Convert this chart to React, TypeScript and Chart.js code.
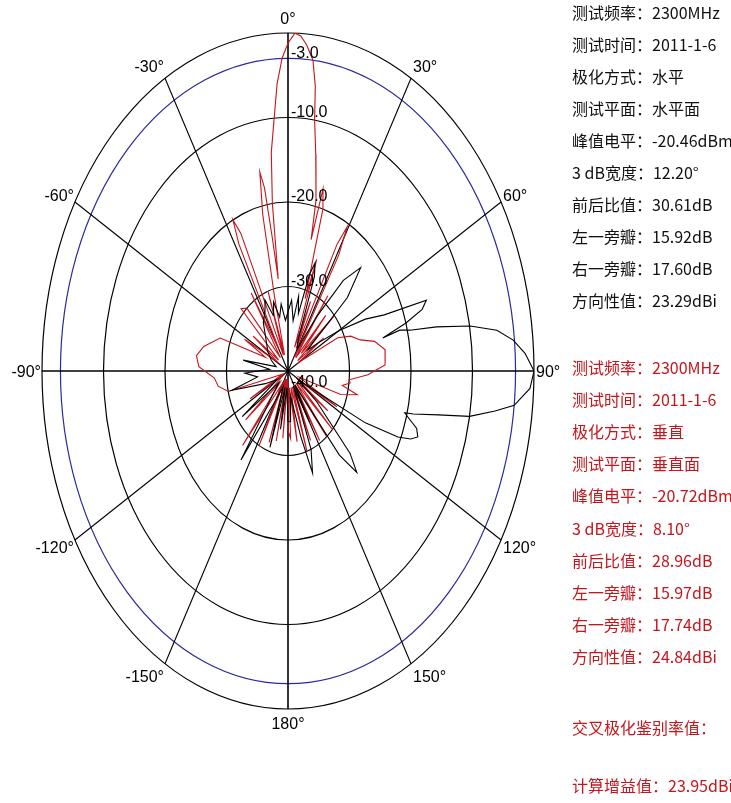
import { useEffect, useRef } from "react";
import { Chart, registerables } from "chart.js";

Chart.register(...registerables);

const MIN_DB = -40;
const MAX_DB = 0;
const RING_DB = [0, -3, -10, -20, -30];
const RING_COLORS = ["#000000", "#2a2a9c", "#000000", "#000000", "#000000"];
const RING_LABEL_DB = [-3, -10, -20, -30, -40];
const RING_LABELS = ["-3.0", "-10.0", "-20.0", "-30.0", "-40.0"];
const SPOKE_ANGLES = [0, 30, 60, 90, 120, 150, 180, -150, -120, -90, -60, -30];
const SPOKE_LABELS = ["0°", "30°", "60°", "90°", "120°", "150°", "180°", "-150°", "-120°", "-90°", "-60°", "-30°"];

// 水平 (horizontal polarization): [angle deg clockwise from top, level dB]
const H_PATTERN: [number, number][] = [
  [-180, -34], [-175, -38], [-170, -33], [-166, -38], [-162, -30.5], [-157, -38], [-150, -36], [-144, -27],
  [-139, -36], [-133, -38], [-126, -30.8], [-120, -38], [-112, -36], [-104, -30.6], [-98, -35], [-92, -33],
  [-86, -37], [-80, -32.6], [-75, -38], [-65, -37], [-55, -36], [-45, -35], [-35, -33], [-28, -32],
  [-24, -30.8], [-20, -33], [-16, -31.5], [-12, -33.5], [-8, -32], [-4, -34], [0, -33], [4, -31.6],
  [8, -34], [11, -31], [14, -33], [17, -28], [19, -26.5], [21, -28], [24, -36], [30, -37],
  [36, -32], [40, -26], [44, -23], [48, -27], [52, -36], [56, -34], [60.2, -30.3], [64, -26],
  [67, -23], [69.6, -16], [71.5, -17], [73.5, -20], [75.8, -24.1], [75.1, -21.2], [76.3, -19.6], [77.8, -15.3],
  [79.8, -9.9], [81.9, -5.7], [84.3, -3.2], [86.9, -1.4], [90, 0], [93, -0.6], [96.3, -3], [98, -6],
  [100.3, -10], [102, -15], [104, -19], [104.6, -20.4], [106, -19.5], [108, -18], [110.3, -17.5], [112, -18.5],
  [113.6, -20.5], [116, -26], [122, -38], [128, -34], [134, -26], [137, -23.6], [140, -27], [146, -38],
  [150, -33], [154, -38], [158, -30], [161.7, -27.3], [165, -32], [172, -37], [176, -34], [180, -34],
];

// 垂直 (vertical polarization): [angle deg clockwise from top, level dB]
const V_PATTERN: [number, number][] = [
  [-180, -33], [-178, -39], [-174, -32], [-171, -39], [-167, -31.5], [-164, -39], [-160, -31], [-156, -39],
  [-152, -30], [-147, -38], [-140, -28.5], [-136, -38], [-130, -31], [-124, -39], [-118, -33], [-112, -39],
  [-104, -30], [-99, -28.5], [-94, -28], [-88, -25.5], [-83, -25], [-78, -26], [-70.5, -28.3], [-66, -36],
  [-62, -32], [-58, -38], [-54, -33], [-50, -38], [-46, -29.4], [-42, -30], [-38, -38], [-33, -29],
  [-30, -37], [-28, -23], [-26.6, -20], [-25.2, -22], [-22, -38], [-19, -30], [-16.5, -38], [-14, -31],
  [-12.5, -21], [-11, -16], [-10, -18], [-9.2, -24], [-8.3, -29], [-7.3, -20], [-6, -14], [-4.3, -10],
  [-3, -6], [-1.5, -3], [0, -1.2], [1.6, 0], [3, -0.3], [4.5, -1.3], [6.3, -3], [7.5, -6],
  [8.3, -10], [10, -14], [12.7, -19.3], [13.6, -24], [14.8, -17.7], [16.5, -20], [18, -31], [19.5, -26],
  [21, -37], [24, -31], [26.5, -37], [28, -23], [29.4, -20.4], [31, -24], [33, -38], [36, -29],
  [39, -38], [43, -31], [46, -37], [49, -30], [52, -38], [56, -33], [60, -38], [64, -31],
  [68, -29], [72.6, -27.7], [76, -25.5], [81, -24], [87.4, -24.2], [92, -27], [96, -30], [98, -29.8],
  [101, -31], [104, -28.4], [108, -31], [112, -38], [118, -31], [122, -38], [126, -32], [129, -38],
  [133.7, -29.9], [137, -38], [141, -30], [145, -38], [148, -30.3], [152, -38], [156, -31], [159, -38],
  [162, -30], [166, -38], [170, -31.5], [174, -38], [177, -32], [180, -33],
];

const H_INFO = [
  "测试频率：2300MHz",
  "测试时间：2011-1-6",
  "极化方式：水平",
  "测试平面：水平面",
  "峰值电平：-20.46dBm",
  "3 dB宽度：12.20°",
  "前后比值：30.61dB",
  "左一旁瓣：15.92dB",
  "右一旁瓣：17.60dB",
  "方向性值：23.29dBi",
];
const V_INFO = [
  "测试频率：2300MHz",
  "测试时间：2011-1-6",
  "极化方式：垂直",
  "测试平面：垂直面",
  "峰值电平：-20.72dBm",
  "3 dB宽度：8.10°",
  "前后比值：28.96dB",
  "左一旁瓣：15.97dB",
  "右一旁瓣：17.74dB",
  "方向性值：24.84dBi",
];
const XPD_LABEL = "交叉极化鉴别率值：";
const GAIN_LABEL = "计算增益值：23.95dBi";

const norm = (db: number) => Math.max(0, (db - MIN_DB) / (MAX_DB - MIN_DB));
const toXY = (pattern: [number, number][]) =>
  pattern.map(([a, db]) => {
    const r = norm(db);
    const t = (a * Math.PI) / 180;
    return { x: r * Math.sin(t), y: r * Math.cos(t) };
  });

const LABEL_FONT = "16px 'Liberation Sans', 'DejaVu Sans', sans-serif";
const RED = "#c4161c";

const polarGrid = {
  id: "polarGrid",
  beforeDatasetsDraw(chart: any) {
    const { ctx } = chart;
    const xs = chart.scales.x;
    const ys = chart.scales.y;
    const cx = xs.getPixelForValue(0);
    const cy = ys.getPixelForValue(0);
    ctx.save();
    RING_DB.forEach((db, i) => {
      const r = norm(db);
      const rx = xs.getPixelForValue(r) - cx;
      const ry = cy - ys.getPixelForValue(r);
      ctx.beginPath();
      ctx.ellipse(cx, cy, rx, ry, 0, 0, Math.PI * 2);
      ctx.strokeStyle = RING_COLORS[i];
      ctx.lineWidth = 1.2;
      ctx.stroke();
    });
    SPOKE_ANGLES.forEach((a) => {
      const t = (a * Math.PI) / 180;
      const ex = xs.getPixelForValue(Math.sin(t));
      const ey = ys.getPixelForValue(Math.cos(t));
      ctx.beginPath();
      ctx.moveTo(cx, cy);
      ctx.lineTo(ex, ey);
      ctx.strokeStyle = "#000000";
      ctx.lineWidth = a % 90 === 0 ? 1.6 : 1.1;
      ctx.stroke();
    });
    ctx.restore();
  },
  afterDraw(chart: any) {
    const { ctx } = chart;
    const xs = chart.scales.x;
    const ys = chart.scales.y;
    const cx = xs.getPixelForValue(0);
    const cy = ys.getPixelForValue(0);
    ctx.save();
    ctx.font = LABEL_FONT;
    ctx.fillStyle = "#000000";
    ctx.textBaseline = "middle";
    SPOKE_ANGLES.forEach((a, i) => {
      const t = (a * Math.PI) / 180;
      const s = Math.sin(t);
      const ex = xs.getPixelForValue(s);
      const ey = ys.getPixelForValue(Math.cos(t));
      const ly = ey - 14.5 * Math.cos(t) + 1.5;
      if (Math.abs(s) < 0.01) {
        ctx.textAlign = "center";
        ctx.fillText(SPOKE_LABELS[i], ex, ly);
      } else if (s > 0) {
        ctx.textAlign = "left";
        ctx.fillText(SPOKE_LABELS[i], ex + 2, ly);
      } else {
        ctx.textAlign = "right";
        ctx.fillText(SPOKE_LABELS[i], ex - 1, ly);
      }
    });
    ctx.textAlign = "left";
    RING_LABEL_DB.forEach((db, i) => {
      const y = ys.getPixelForValue(norm(db));
      const ly = db === MIN_DB ? cy + 12 : y - 5;
      ctx.fillText(RING_LABELS[i], cx + 3, ly);
    });
    ctx.restore();
  },
};

const panelFont = "'Noto Sans CJK SC', sans-serif";

function InfoLine({ text, y, color }: { text: string; y: number; color: string }) {
  return (
    <div
      style={{
        position: "absolute",
        left: 572,
        top: y - 11,
        height: 22,
        lineHeight: "22px",
        whiteSpace: "nowrap",
        color,
        fontSize: 16,
        fontFamily: panelFont,
      }}
    >
      {text}
    </div>
  );
}

export default function App() {
  const ref = useRef<HTMLCanvasElement | null>(null);
  useEffect(() => {
    if (!ref.current) return;
    const chart = new Chart(ref.current, {
      type: "scatter",
      data: {
        datasets: [
          {
            label: "水平",
            data: toXY(H_PATTERN),
            showLine: true,
            borderColor: "#000000",
            borderWidth: 1.1,
            pointRadius: 0,
            tension: 0,
            fill: false,
          },
          {
            label: "垂直",
            data: toXY(V_PATTERN),
            showLine: true,
            borderColor: RED,
            borderWidth: 1.1,
            pointRadius: 0,
            tension: 0,
            fill: false,
          },
        ],
      },
      options: {
        animation: false,
        responsive: false,
        maintainAspectRatio: false,
        layout: { padding: { left: 42, right: 197, top: 33, bottom: 94 } },
        scales: {
          x: { type: "linear", min: -1, max: 1, display: false },
          y: { type: "linear", min: -1, max: 1, display: false },
        },
        plugins: { legend: { display: false }, tooltip: { enabled: false } },
      },
      plugins: [polarGrid],
    });
    return () => chart.destroy();
  }, []);
  return (
    <div
      style={{
        position: "fixed",
        left: 0,
        top: 0,
        width: 731,
        height: 803,
        background: "#ffffff",
        overflow: "hidden",
      }}
    >
      <canvas ref={ref} width={731} height={803} style={{ position: "absolute", left: 0, top: 0, width: 731, height: 803 }} />
      {H_INFO.map((s, i) => (
        <InfoLine key={"h" + i} text={s} y={12 + i * 32} color="#111111" />
      ))}
      {V_INFO.map((s, i) => (
        <InfoLine key={"v" + i} text={s} y={367 + i * 32.1} color={RED} />
      ))}
      <InfoLine text={XPD_LABEL} y={727} color={RED} />
      <InfoLine text={GAIN_LABEL} y={785} color={RED} />
    </div>
  );
}
